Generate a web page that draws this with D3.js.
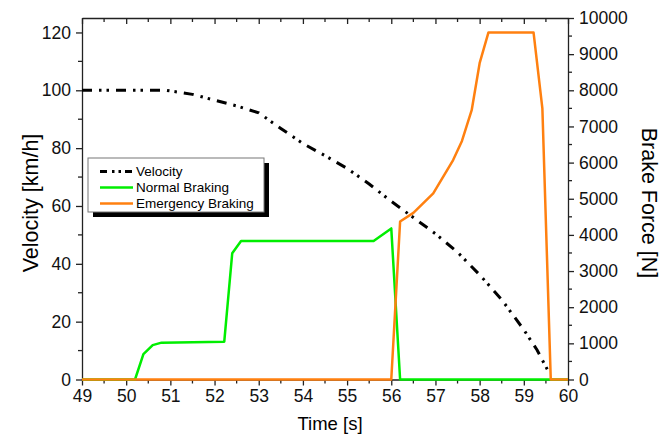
<!DOCTYPE html>
<html>
<head>
<meta charset="utf-8">
<script src="https://cdn.jsdelivr.net/npm/d3@7"></script>
<style>
  body { margin: 0; background: #fff; }
  svg { display: block; font-family: 'Liberation Sans', Arial, sans-serif; }
  .axis text { font-size: 17.5px; fill: #111; }
  .axis path, .axis line { stroke: #222; stroke-width: 1.3; }
</style>
</head>
<body>
<svg id="chart" width="662" height="437"></svg>
<script>
// time axis ticks
const timeTicks = d3.range(49, 61, 1);
const velocityTicks = [0, 20, 40, 60, 80, 100, 120];
const forceTicks = d3.range(0, 10001, 1000);

// Velocity [km/h] vs time [s]
const velocityT = [49, 50, 50.9, 51.5, 52, 52.5, 53, 53.5, 54, 54.5, 55, 55.5, 56, 56.5, 57, 57.5, 58, 58.5, 59, 59.3, 59.6];
const velocityV = [100, 100, 100, 98.6, 96.6, 94.6, 92.2, 86.8, 81.6, 77.4, 73, 67.6, 61.6, 56, 50.4, 44, 36.2, 27.6, 17.2, 10.2, 1.5];

// Normal braking force [N]
const normalT = [49, 50.2, 50.39, 50.6, 50.8, 52.22, 52.4, 52.6, 55.6, 56.0, 56.2, 60];
const normalF = [0, 0, 700, 950, 1020, 1045, 3490, 3830, 3830, 4180, 0, 0];

// Emergency braking force [N]
const emergT = [49, 56.0, 56.2, 56.5, 56.95, 57.4, 57.6, 57.82, 58.0, 58.2, 59.22, 59.42, 59.61, 60];
const emergF = [0, 0, 4370, 4610, 5150, 6070, 6600, 7450, 8750, 9600, 9600, 7500, 0, 0];

const margin = { top: 18, right: 94, bottom: 57.5, left: 82 };
const svg = d3.select('#chart');
const width = 662 - margin.left - margin.right;
const height = 437 - margin.top - margin.bottom;
const root = svg.append('g').attr('transform', `translate(${margin.left}, ${margin.top})`);

const x = d3.scaleLinear().domain([49, 60]).range([0, width]);
const yV = d3.scaleLinear().domain([0, 125]).range([height, 0]);
const yF = d3.scaleLinear().domain([0, 10000]).range([height, 0]);

// minor ticks
const minorX = d3.range(49, 60.01, 0.5).filter(d => d % 1 !== 0);
const minorV = d3.range(10, 125, 20);
const minorF = d3.range(500, 10000, 1000);

function minor(g, scale, values, orient, len) {
  g.selectAll('line.minor')
    .data(values)
    .join('line')
    .attr('class', 'minor')
    .attr('x1', d => (orient === 'h' ? scale(d) : 0))
    .attr('x2', d => (orient === 'h' ? scale(d) : len))
    .attr('y1', d => (orient === 'h' ? 0 : scale(d)))
    .attr('y2', d => (orient === 'h' ? len : scale(d)));
}

// bottom axis
const gx = root.append('g')
  .attr('class', 'axis')
  .attr('transform', `translate(0, ${height})`)
  .call(d3.axisBottom(x).tickValues(timeTicks).tickFormat(d3.format('d')).tickSize(6).tickSizeOuter(0).tickPadding(4));
minor(gx, x, minorX, 'h', 4);

// top axis, ticks point inward
const gt = root.append('g')
  .attr('class', 'axis')
  .call(d3.axisBottom(x).tickValues(timeTicks).tickFormat('').tickSize(6).tickSizeOuter(0));
minor(gt, x, minorX, 'h', 4);

// left axis
const gl = root.append('g')
  .attr('class', 'axis')
  .call(d3.axisLeft(yV).tickValues(velocityTicks).tickSize(6).tickSizeOuter(0).tickPadding(5));
minor(gl, yV, minorV, 'v', -4);

// right axis
const gr = root.append('g')
  .attr('class', 'axis')
  .attr('transform', `translate(${width}, 0)`)
  .call(d3.axisRight(yF).tickValues(forceTicks).tickFormat(d3.format('d')).tickSize(6).tickSizeOuter(0).tickPadding(5));
minor(gr, yF, minorF, 'v', 4);

// axis titles
svg.append('text')
  .attr('x', 330)
  .attr('y', 430)
  .attr('text-anchor', 'middle')
  .attr('font-size', 18.5)
  .text('Time [s]');

svg.append('text')
  .attr('transform', `translate(38, 203) rotate(-90)`)
  .attr('text-anchor', 'middle')
  .attr('font-size', 21.5)
  .text('Velocity [km/h]');

svg.append('text')
  .attr('transform', `translate(642, 203) rotate(90)`)
  .attr('text-anchor', 'middle')
  .attr('font-size', 21.5)
  .text('Brake Force [N]');

// lines
const vLine = d3.line().x(d => x(d[0])).y(d => yV(d[1]));
const fLine = d3.line().x(d => x(d[0])).y(d => yF(d[1]));

const dashVel = '10,7,2.5,5,2.5,7';

root.append('path')
  .datum(d3.zip(velocityT, velocityV))
  .attr('fill', 'none')
  .attr('stroke', '#000')
  .attr('stroke-width', 3)
  .attr('stroke-dasharray', dashVel)
  .attr('d', vLine);

root.append('path')
  .datum(d3.zip(normalT, normalF))
  .attr('fill', 'none')
  .attr('stroke', '#00ee00')
  .attr('stroke-width', 2.5)
  .attr('stroke-linejoin', 'round')
  .attr('d', fLine);

root.append('path')
  .datum(d3.zip(emergT, emergF))
  .attr('fill', 'none')
  .attr('stroke', '#ff8010')
  .attr('stroke-width', 2.5)
  .attr('stroke-linejoin', 'round')
  .attr('d', fLine);

// legend
const legend = svg.append('g').attr('transform', 'translate(88, 158)');
legend.append('rect')
  .attr('x', 5).attr('y', 5).attr('width', 176).attr('height', 54)
  .attr('fill', '#000');
legend.append('rect')
  .attr('x', 0).attr('y', 0).attr('width', 176).attr('height', 54)
  .attr('fill', '#fff').attr('stroke', '#777').attr('stroke-width', 1);

const items = [
  { name: 'Velocity', color: '#000', dash: '7,5,2.5,4,2.5,4', w: 3 },
  { name: 'Normal Braking', color: '#00ee00', dash: null, w: 2.5 },
  { name: 'Emergency Braking', color: '#ff8010', dash: null, w: 2.5 },
];
items.forEach((it, i) => {
  const yy = 13.5 + i * 16;
  legend.append('line')
    .attr('x1', 12).attr('x2', 45).attr('y1', yy).attr('y2', yy)
    .attr('stroke', it.color).attr('stroke-width', it.w)
    .attr('stroke-dasharray', it.dash);
  legend.append('text')
    .attr('x', 48).attr('y', yy + 4.5)
    .attr('font-size', 13.5)
    .text(it.name);
});
</script>
</body>
</html>
